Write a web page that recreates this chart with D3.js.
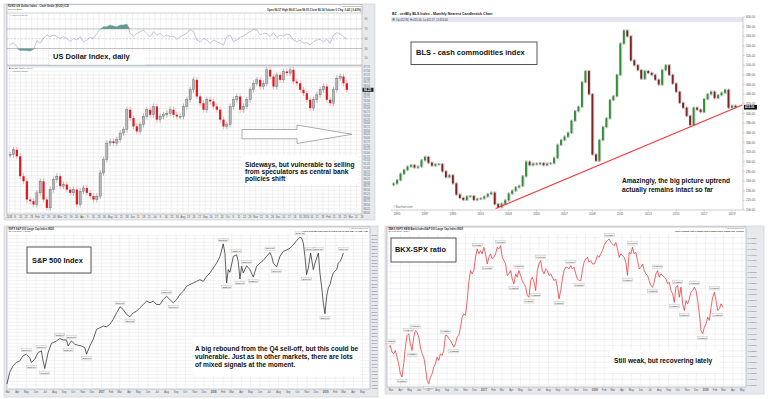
<!DOCTYPE html>
<html>
<head>
<meta charset="utf-8">
<script src="https://d3js.org/d3.v7.min.js"></script>
<style>
  body{margin:0;background:#fff;}
  svg{display:block;font-family:"Liberation Sans",Arial,sans-serif;}
</style>
</head>
<body>
<div id="chart"></div>
<script>
// ---------- US Dollar index, daily (sampled) ----------
var usdFirstDay = '2018-01-02', usdLastDay = '2019-02-27';
var usdClose = [91.89, 92.22, 91.78, 90.44, 90.10, 88.87, 88.76, 88.54, 89.32, 90.10,
  88.87, 88.31, 89.54, 90.21, 90.44, 89.77, 89.88, 89.54, 89.32, 89.54,
  88.54, 89.43, 89.65, 89.32, 89.10, 88.87, 89.10, 90.66, 91.55, 92.67,
  92.78, 92.67, 92.89, 93.34, 93.57, 94.91, 94.35, 93.79, 93.45, 93.90,
  94.46, 94.91, 94.57, 95.13, 94.24, 94.46, 94.57, 94.68, 94.91, 94.57,
  94.46, 94.46, 95.13, 95.58, 96.25, 96.92, 95.80, 95.35, 94.91, 95.58,
  95.47, 95.13, 94.91, 94.24, 93.79, 93.90, 95.13, 95.58, 95.80, 94.91,
  95.13, 95.58, 96.25, 96.69, 96.92, 96.47, 96.69, 97.59, 97.14, 96.47,
  97.25, 96.92, 97.48, 97.37, 97.59, 96.81, 96.69, 96.25, 96.02, 95.58,
  95.02, 95.58, 95.91, 96.25, 96.47, 95.58, 95.35, 96.25, 97.03, 97.14,
  96.69, 96.25];
var usdRsi = [37.1, 41.9, 33.7, 25.6, 26.3, 25.6, 24.9, 28.3, 45.9, 40.5,
  50.7, 57.5, 54.1, 57.5, 54.1, 50.7, 54.1, 50.7, 43.9, 50.7,
  47.3, 54.1, 43.9, 47.3, 52.7, 50.7, 60.8, 69.0, 74.4, 74.4,
  77.8, 75.8, 74.4, 77.8, 77.8, 79.8, 60.8, 55.4, 60.8, 64.2,
  67.6, 60.8, 54.1, 64.2, 57.5, 60.8, 54.1, 57.5, 54.1, 55.4,
  48.6, 54.1, 57.5, 60.8, 69.0, 64.2, 47.3, 43.9, 50.7, 47.3,
  40.5, 47.3, 43.9, 40.5, 37.1, 54.1, 57.5, 43.9, 47.3, 52.7,
  55.4, 60.8, 64.2, 69.0, 67.6, 57.5, 60.8, 60.8, 54.1, 62.2,
  52.7, 57.5, 55.4, 59.5, 57.5, 47.3, 43.9, 47.3, 40.5, 41.9,
  37.1, 43.9, 47.3, 48.6, 43.9, 48.6, 40.5, 57.5, 62.2, 59.5,
  54.1, 48.6];
var usdRsiTicks = [10, 30, 50, 70, 90];

// ---------- BLS cash commodities index, quarterly sample ----------
var blsFirstQuarter = 1994.75;
var blsClose = [255, 262, 275, 283, 290, 293, 288, 290, 303, 310,
  298, 292, 295, 295, 280, 268, 272, 255, 232, 225,
  221, 228, 229, 221, 223, 224, 228, 233, 236, 212,
  206, 213, 220, 234, 240, 247, 250, 270, 300, 293,
  296, 295, 297, 293, 296, 297, 308, 335, 345, 352,
  360, 385, 405, 414, 465, 488, 440, 315, 302, 345,
  372, 390, 428, 436, 480, 545, 572, 560, 510, 500,
  490, 472, 488, 484, 480, 470, 460, 490, 500, 480,
  462, 445, 422, 412, 395, 376, 412, 408, 403, 430,
  440, 445, 432, 438, 443, 449, 412, 416, 413];
var blsYearTicks = [1995, 1997, 1999, 2001, 2003, 2005, 2007, 2009, 2011, 2013, 2015, 2017, 2019];
var blsTrendYears = [2002.07, 2019.73];
var blsTrendValues = [203, 417.6];

// ---------- S&P 500 ----------
var snpYears = [2016.158, 2016.182, 2016.211, 2016.241, 2016.271, 2016.301, 2016.330, 2016.360, 2016.375, 2016.405,
  2016.435, 2016.464, 2016.479, 2016.494, 2016.524, 2016.554, 2016.598, 2016.628, 2016.658, 2016.688,
  2016.702, 2016.717, 2016.732, 2016.762, 2016.792, 2016.821, 2016.851, 2016.866, 2016.896, 2016.926,
  2016.955, 2016.985, 2017.015, 2017.045, 2017.074, 2017.104, 2017.134, 2017.164, 2017.193, 2017.223,
  2017.253, 2017.283, 2017.313, 2017.342, 2017.372, 2017.402, 2017.432, 2017.461, 2017.491, 2017.521,
  2017.551, 2017.580, 2017.610, 2017.640, 2017.670, 2017.699, 2017.729, 2017.759, 2017.789, 2017.818,
  2017.848, 2017.878, 2017.908, 2017.938, 2017.967, 2017.997, 2018.027, 2018.057, 2018.086, 2018.101,
  2018.116, 2018.131, 2018.146, 2018.176, 2018.205, 2018.220, 2018.235, 2018.250, 2018.265, 2018.295,
  2018.324, 2018.354, 2018.384, 2018.414, 2018.443, 2018.473, 2018.503, 2018.518, 2018.533, 2018.562,
  2018.592, 2018.622, 2018.652, 2018.682, 2018.711, 2018.741, 2018.771, 2018.786, 2018.801, 2018.815,
  2018.830, 2018.845, 2018.866, 2018.890, 2018.905, 2018.935, 2018.949, 2018.964, 2018.979, 2018.994,
  2019.009, 2019.024, 2019.039, 2019.054, 2019.068, 2019.098, 2019.113, 2019.128, 2019.143, 2019.158];
var snpClose = [1857, 1940, 1987, 2011, 2023, 2059, 2071, 2047, 2011, 2035,
  2083, 2095, 2023, 1968, 2083, 2149, 2166, 2183, 2173, 2173,
  2130, 2149, 2166, 2142, 2135, 2130, 2118, 2071, 2130, 2178,
  2249, 2261, 2273, 2268, 2285, 2321, 2368, 2411, 2392, 2356,
  2340, 2368, 2380, 2404, 2428, 2452, 2440, 2452, 2428, 2428,
  2463, 2487, 2463, 2440, 2463, 2499, 2523, 2559, 2571, 2582,
  2594, 2606, 2594, 2630, 2654, 2690, 2725, 2773, 2863, 2797,
  2582, 2678, 2659, 2773, 2785, 2737, 2611, 2702, 2654, 2706,
  2678, 2625, 2702, 2725, 2744, 2773, 2801, 2773, 2725, 2697,
  2773, 2809, 2820, 2832, 2856, 2887, 2911, 2904, 2868, 2773,
  2642, 2690, 2797, 2678, 2725, 2797, 2654, 2559, 2440, 2361,
  2487, 2547, 2571, 2618, 2654, 2678, 2725, 2737, 2761, 2797];
var snpMarks = [6, 8, 11, 13, 17, 20, 22, 27, 37, 40, 51, 53, 68, 70, 74, 76, 79, 81, 86, 89, 96, 100, 102, 105, 109, 119];

// ---------- BKX : SPX ratio ----------
var bkxFirst = 2016.142, bkxLast = 2019.154;
var bkxRatio = [0.03283, 0.03298, 0.03239, 0.03225, 0.03254, 0.03195, 0.03136, 0.03048, 0.03019, 0.03136,
  0.03283, 0.03386, 0.03401, 0.03313, 0.03254, 0.03372, 0.03430, 0.03416, 0.03372, 0.03283,
  0.03225, 0.03195, 0.03107, 0.02989, 0.02960, 0.03019, 0.03048, 0.03107, 0.03136, 0.03195,
  0.03166, 0.03225, 0.03210, 0.03254, 0.03386, 0.03386, 0.03357, 0.03342, 0.03313, 0.03283,
  0.03313, 0.03372, 0.03386, 0.03460, 0.03548, 0.03577, 0.03563, 0.03695, 0.03857, 0.03960,
  0.03930, 0.03960, 0.04077, 0.04151, 0.04107, 0.04136, 0.04107, 0.04165, 0.04107, 0.04018,
  0.04077, 0.04107, 0.04062, 0.04077, 0.04107, 0.04165, 0.04151, 0.04180, 0.04077, 0.04048,
  0.04018, 0.03916, 0.03930, 0.03960, 0.03886, 0.03842, 0.03930, 0.03901, 0.03960, 0.03916,
  0.03871, 0.03842, 0.03813, 0.03739, 0.03724, 0.03871, 0.03901, 0.03857, 0.03783, 0.03960,
  0.04018, 0.04048, 0.03960, 0.03930, 0.03974, 0.03960, 0.03916, 0.03930, 0.03901, 0.03871,
  0.03886, 0.03813, 0.03710, 0.03783, 0.03886, 0.03960, 0.03989, 0.03989, 0.03974, 0.04004,
  0.03974, 0.03989, 0.03930, 0.03886, 0.03871, 0.03871, 0.03960, 0.04033, 0.04062, 0.04077,
  0.04033, 0.04048, 0.04018, 0.04018, 0.04048, 0.04092, 0.04077, 0.04107, 0.04136, 0.04180,
  0.04209, 0.04224, 0.04239, 0.04209, 0.04195, 0.04180, 0.04209, 0.04151, 0.04077, 0.04107,
  0.04092, 0.04077, 0.04033, 0.03916, 0.04121, 0.04107, 0.04165, 0.04107, 0.04121, 0.04048,
  0.03974, 0.03989, 0.04018, 0.03960, 0.03930, 0.03916, 0.03871, 0.03827, 0.03813, 0.03857,
  0.03930, 0.03960, 0.03901, 0.03930, 0.03916, 0.03901, 0.03886, 0.03842, 0.03857, 0.03783,
  0.03754, 0.03680, 0.03813, 0.03827, 0.03724, 0.03813, 0.03666, 0.03607, 0.03695, 0.03666,
  0.03710, 0.03768, 0.03783, 0.03813, 0.03783, 0.03695, 0.03577, 0.03430, 0.03401, 0.03460,
  0.03489, 0.03548, 0.03519, 0.03636, 0.03724, 0.03768, 0.03695, 0.03607, 0.03622, 0.03666,
  0.03636];
var bkxMarks = [1, 8, 12, 14, 16, 24, 34, 39, 53, 59, 67, 75, 78, 84, 88, 91, 102, 109, 114, 132, 143, 146, 158, 161, 171, 173, 177, 183, 188, 195, 197];

var svg = d3.select('#chart').append('svg').attr('width', 768).attr('height', 399);
svg.append('rect').attr('width', 768).attr('height', 399).attr('fill', '#fff');

function decYear(y) {
  var yr = Math.floor(y), s = Date.UTC(yr, 0, 1), e = Date.UTC(yr + 1, 0, 1);
  return new Date(s + (y - yr) * (e - s));
}
function frame(x0, y0, x1, y1) {
  svg.append('rect').attr('x', x0).attr('y', y0).attr('width', x1 - x0).attr('height', y1 - y0)
    .attr('fill', '#e7e9ec').attr('stroke', '#c9ccd1').attr('stroke-width', 0.6);
}
function pane(x0, y0, x1, y1) {
  svg.append('rect').attr('x', x0).attr('y', y0).attr('width', x1 - x0).attr('height', y1 - y0)
    .attr('fill', '#fff').attr('stroke', '#9ea3a8').attr('stroke-width', 0.6);
}
function tiny(txt, x, y, size, opts) {
  opts = opts || {};
  return svg.append('text').text(txt).attr('x', x).attr('y', y)
    .attr('font-size', size).attr('fill', opts.fill || '#555')
    .attr('font-weight', opts.bold ? 'bold' : 'normal')
    .attr('text-anchor', opts.anchor || 'start');
}
function note(lines, x, y, size, lh, box, border) {
  if (box) {
    svg.append('rect').attr('x', box[0]).attr('y', box[1]).attr('width', box[2] - box[0]).attr('height', box[3] - box[1])
      .attr('fill', '#fff').attr('stroke', border ? '#444' : 'none').attr('stroke-width', border ? 0.9 : 0);
  }
  lines.forEach(function (l, i) {
    svg.append('text').text(l).attr('x', x).attr('y', y + i * lh)
      .attr('font-size', size).attr('font-weight', 'bold').attr('fill', '#111');
  });
}
function monthFmt(d) {
  return d.getUTCMonth() === 0 ? d3.utcFormat('%Y')(d) : d3.utcFormat('%b')(d);
}

// ================= panel 1 : USD =================
function drawUsd() {
  frame(4, 4, 375, 220);
  var n = usdClose.length;
  var t0 = new Date(usdFirstDay), t1 = new Date(usdLastDay);
  var dates = usdClose.map(function (d, i) { return new Date(+t0 + i * (t1 - t0) / (n - 1)); });
  var x = d3.scaleUtc().domain([d3.utcDay.offset(t0, -4), d3.utcDay.offset(t1, 19)]).range([7, 362]);
  var y = d3.scaleLinear().domain([87.9, 97.85]).range([214, 66]);
  var yr = d3.scaleLinear().domain([0, 100]).range([63.2, 14.2]);

  pane(7, 4.5, 362, 65);
  pane(7, 66, 362, 214);
  var weeks = x.ticks(d3.utcMonday.every(1));
  var grid = svg.append('g').attr('stroke', '#e3e3e3').attr('stroke-width', 0.5);
  weeks.forEach(function (w) {
    grid.append('line').attr('x1', x(w)).attr('x2', x(w)).attr('y1', 13).attr('y2', 65);
    grid.append('line').attr('x1', x(w)).attr('x2', x(w)).attr('y1', 73).attr('y2', 214);
  });
  var pticks = d3.range(88, 97.8, 0.25);
  pticks.forEach(function (p) {
    grid.append('line').attr('x1', 7).attr('x2', 362).attr('y1', y(p)).attr('y2', y(p));
    tiny(p.toFixed(2), 363.5, y(p) + 1, 2.6, { fill: '#666' });
  });
  svg.append('line').attr('x1', 7).attr('x2', 362).attr('y1', 13).attr('y2', 13).attr('stroke', '#9ea3a8').attr('stroke-width', 0.5);

  // rsi guide lines
  usdRsiTicks.forEach(function (v) {
    var s = v === 50 ? '#aaa' : (v === 70 || v === 30 ? '#888' : '#e3e3e3');
    svg.append('line').attr('x1', 7).attr('x2', 362).attr('y1', yr(v)).attr('y2', yr(v))
      .attr('stroke', s).attr('stroke-width', 0.5).attr('stroke-dasharray', v === 50 ? '2,1.5' : null);
    tiny(String(v), 364.5, yr(v) + 1, 2.6, { fill: '#666' });
  });
  var hi = d3.area().x(function (d, i) { return x(dates[i]); })
    .y0(yr(70)).y1(function (d) { return yr(Math.max(d, 70)); });
  var lo = d3.area().x(function (d, i) { return x(dates[i]); })
    .y0(yr(30)).y1(function (d) { return yr(Math.min(d, 30)); });
  svg.append('path').datum(usdRsi).attr('d', hi).attr('fill', '#5f9d8c');
  svg.append('path').datum(usdRsi).attr('d', lo).attr('fill', '#5f9d8c');
  svg.append('path').datum(usdRsi)
    .attr('d', d3.line().x(function (d, i) { return x(dates[i]); }).y(function (d) { return yr(d); }))
    .attr('fill', 'none').attr('stroke', '#9a9ad0').attr('stroke-width', 0.6);

  // candles
  var wick = 0.2;
  var candles = usdClose.map(function (c, i) { return { date: dates[i], o: i ? usdClose[i - 1] : c, c: c }; });
  var g = svg.append('g');
  g.selectAll('line').data(candles).enter().append('line')
    .attr('x1', function (d) { return x(d.date); }).attr('x2', function (d) { return x(d.date); })
    .attr('y1', function (d) { return y(Math.max(d.o, d.c) + wick); })
    .attr('y2', function (d) { return y(Math.min(d.o, d.c) - wick); })
    .attr('stroke', function (d) { return d.c < d.o ? '#f29a9a' : '#9a9a9a'; }).attr('stroke-width', 0.7);
  g.selectAll('rect').data(candles).enter().append('rect')
    .attr('x', function (d) { return x(d.date) - 1.1; }).attr('width', 2.2)
    .attr('y', function (d) { return y(Math.max(d.o, d.c)); })
    .attr('height', function (d) { return Math.max(0.7, Math.abs(y(d.o) - y(d.c))); })
    .attr('fill', function (d) { return d.c < d.o ? '#e8141c' : '#b5b5b5'; })
    .attr('stroke', function (d) { return d.c < d.o ? 'none' : '#555'; }).attr('stroke-width', 0.35);

  var last = usdClose[n - 1];
  svg.append('rect').attr('x', 362.5).attr('y', y(last) - 2).attr('width', 11).attr('height', 4).attr('fill', '#222');
  tiny(last.toFixed(2), 364, y(last) + 1, 2.8, { fill: '#fff', bold: true });

  weeks.forEach(function (w) {
    var lbl = w.getUTCDate() <= 7 ? monthFmt(w) : String(w.getUTCDate());
    tiny(lbl, x(w), 218, 2.6, { fill: '#555', anchor: 'middle' });
  });

  tiny('$USD US Dollar Index - Cash Settle (EOD) ICE', 8, 7.4, 2.8, { fill: '#333', bold: true });
  tiny('27-Feb-2019', 8, 10.4, 2.5, { fill: '#444' });
  tiny('\u00a9 StockCharts.com', 361, 7, 2.5, { fill: '#666', anchor: 'end' });
  tiny('Open 96.57  High 96.61  Low 96.05  Close 96.14  Volume 0  Chg -0.42 (-0.43%)', 361, 10.6, 2.7, { fill: '#333', bold: true, anchor: 'end' });
  tiny('\u2014 RSI(14) 56.37', 9, 15.8, 2.5, { fill: '#666' });
  tiny('\u25a0 $USD (Daily) 96.14', 9, 69, 2.5, { fill: '#555' });
  tiny('\u2014 Volume undef', 9, 71.8, 2.5, { fill: '#3a5fcd' });

  // arrow + notes
  svg.append('polygon')
    .attr('points', '242,129.5 297,129.5 297,125 352,134.3 297,143.5 297,138.8 242,138.8')
    .attr('fill', '#fff').attr('stroke', '#8a8a8a').attr('stroke-width', 0.7);
  note(['US Dollar Index, daily'], 53, 59.2, 7.5, 0, [49, 52, 145, 64.5], false);
  note(['Sideways, but vulnerable to selling', 'from speculators as central bank', 'policies shift'],
    245, 167, 6.6, 7.2, [242, 156, 358, 184.5], false);
}

// ================= panel 2 : BLS =================
function drawBls() {
  var x = d3.scaleLinear().domain([1994.57, 2019.79]).range([391, 743]);
  var y = d3.scaleLinear().domain([200, 600]).range([210, 17]);
  var wick = 2.5;

  tiny('BZ - crnBly BLS Index - Monthly Nearest Candlestick Chart', 392, 15.3, 3.6, { fill: '#222', bold: true });
  svg.append('rect').attr('x', 391).attr('y', 17).attr('width', 352).attr('height', 5).attr('fill', '#e4e4f6');
  svg.append('rect').attr('x', 392.5).attr('y', 18.3).attr('width', 2.2).attr('height', 2.2).attr('fill', '#2fa82f');
  tiny('Op:412.94, Hi:415.00, Lo:411.57, Cl:413.06', 396, 20.6, 2.7, { fill: '#333' });

  // axes
  svg.append('line').attr('x1', 743).attr('x2', 743).attr('y1', 17).attr('y2', 210).attr('stroke', '#999').attr('stroke-width', 0.5);
  svg.append('line').attr('x1', 391).attr('x2', 743).attr('y1', 210).attr('y2', 210).attr('stroke', '#999').attr('stroke-width', 0.5);
  d3.range(200, 601, 20).forEach(function (v) {
    svg.append('line').attr('x1', 743).attr('x2', 745).attr('y1', y(v)).attr('y2', y(v)).attr('stroke', '#999').attr('stroke-width', 0.4);
    tiny(v.toFixed(2), 746, y(v) + 1.1, 3, { fill: '#555' });
  });
  blsYearTicks.forEach(function (t) {
    svg.append('line').attr('x1', x(t)).attr('x2', x(t)).attr('y1', 210).attr('y2', 212).attr('stroke', '#999').attr('stroke-width', 0.4);
    tiny(String(t), x(t), 215.2, 3, { fill: '#555', anchor: 'middle' });
  });
  tiny('\u00a9 Barchart.com', 393, 207.5, 2.8, { fill: '#666' });

  var candles = blsClose.map(function (c, i) {
    return { t: blsFirstQuarter + i * 0.25, o: i ? blsClose[i - 1] : c - 3, c: c };
  });
  var g = svg.append('g');
  g.selectAll('rect.sh').data(candles).enter().append('rect')
    .attr('x', function (d) { return x(d.t) - 1.1; }).attr('width', 3.2)
    .attr('y', function (d) { return y(Math.max(d.o, d.c) + wick); })
    .attr('height', function (d) { return Math.abs(y(d.o) - y(d.c)) + 2 * (y(0) - y(wick)); })
    .attr('fill', '#dcdcdc');
  g.selectAll('line').data(candles).enter().append('line')
    .attr('x1', function (d) { return x(d.t); }).attr('x2', function (d) { return x(d.t); })
    .attr('y1', function (d) { return y(Math.max(d.o, d.c) + wick); })
    .attr('y2', function (d) { return y(Math.min(d.o, d.c) - wick); })
    .attr('stroke', '#444').attr('stroke-width', 0.4);
  g.selectAll('rect.bd').data(candles).enter().append('rect')
    .attr('x', function (d) { return x(d.t) - 0.95; }).attr('width', 1.9)
    .attr('y', function (d) { return y(Math.max(d.o, d.c)); })
    .attr('height', function (d) { return Math.max(0.7, Math.abs(y(d.o) - y(d.c))); })
    .attr('fill', function (d) { return d.c < d.o ? '#7e2222' : '#2f8f36'; });

  svg.append('line')
    .attr('x1', x(blsTrendYears[0])).attr('y1', y(blsTrendValues[0]))
    .attr('x2', x(blsTrendYears[1])).attr('y2', y(blsTrendValues[1]))
    .attr('stroke', '#f23c3c').attr('stroke-width', 1.2);

  var last = blsClose[blsClose.length - 1];
  svg.append('rect').attr('x', 744).attr('y', y(last) - 2.3).attr('width', 13).attr('height', 4.6).attr('fill', '#111');
  tiny('413.06', 745, y(last) + 1.1, 3, { fill: '#fff', bold: true });

  note(['BLS - cash commodities index'], 416, 55.3, 7.5, 0, [411, 42, 537, 64.5], true);
  note(['Amazingly, the big picture uptrend', 'actually remains intact so far'], 622, 183.3, 6.6, 8.3, null, false);
}

// ================= line panels =================
function markBoxes(x, y, dates, vals, marks, fmt) {
  marks.forEach(function (i) {
    var v = vals[i], p = i > 0 ? vals[i - 1] : v, q = i < vals.length - 1 ? vals[i + 1] : -Infinity;
    var up = v >= p && v >= q;
    var cx = x(dates[i]), cy = y(v) + (up ? -3.9 : 4.2);
    svg.append('rect').attr('x', cx - 5).attr('y', cy - 1.6).attr('width', 10).attr('height', 3.2)
      .attr('fill', '#f3f3f3').attr('stroke', '#aaa').attr('stroke-width', 0.3);
    tiny(fmt(v), cx, cy + 0.85, 2.3, { fill: '#333', anchor: 'middle' });
  });
}
function linePanel(o) {
  frame(o.fx0, 226, o.fx1, o.fy1);
  pane(o.x0, 227, o.x1, o.y1);
  var x = d3.scaleUtc().domain([decYear(o.d0), decYear(o.d1)]).range([o.x0, o.x1]);
  var y = d3.scaleLinear().domain(o.yDomain).range([o.y1, 227.3]);
  var grid = svg.append('g').attr('stroke', '#e5e5e5').attr('stroke-width', 0.5);
  var months = x.ticks(d3.utcMonth.every(1));
  months.forEach(function (m) {
    grid.append('line').attr('x1', x(m)).attr('x2', x(m)).attr('y1', 234).attr('y2', o.y1);
    tiny(monthFmt(m), x(m), o.y1 + 3.6, 2.6, { fill: '#555', anchor: 'middle', bold: m.getUTCMonth() === 0 });
  });
  d3.range(o.gridStart, o.yDomain[1], o.gridStep).forEach(function (v) {
    if (y(v) < 234) return;
    grid.append('line').attr('x1', o.x0).attr('x2', o.x1).attr('y1', y(v)).attr('y2', y(v));
    tiny(o.fmt(v), o.x1 + 1.5, y(v) + 0.9, 2.5, { fill: '#666' });
  });
  tiny(o.head1, o.x0 + 1.5, 229.6, 2.6, { fill: '#333', bold: true });
  tiny(o.head2, o.x0 + 1.5, 232.3, 2.4, { fill: '#444' });
  tiny('\u00a9 StockCharts.com', o.x1 - 2, 229.3, 2.2, { fill: '#777', anchor: 'end' });
  tiny(o.head3, o.x1 - 2, 231.7, 2.2, { fill: '#333', bold: true, anchor: 'end' });
  svg.append('path').datum(o.vals)
    .attr('d', d3.line().x(function (d, i) { return x(o.dates[i]); }).y(function (d) { return y(d); }))
    .attr('fill', 'none').attr('stroke', o.color).attr('stroke-width', 0.75);
  markBoxes(x, y, o.dates, o.vals, o.marks, o.markFmt);
}

function drawSnp() {
  linePanel({
    fx0: 4, fx1: 378, fy1: 397, x0: 7, x1: 370, y1: 389,
    d0: 2016.158, d1: 2019.396, yDomain: [1821, 2982], gridStart: 1825, gridStep: 25,
    fmt: function (v) { return String(v); }, markFmt: function (v) { return v.toFixed(2); },
    dates: snpYears.map(decYear), vals: snpClose, marks: snpMarks, color: '#2b2b2b',
    head1: '$SPX S&P 500 Large Cap Index INDX',
    head2: '28-Feb-2019 4:30pm',
    head3: 'Open 2792.38 High 2795.72 Low 2775.13 Last 2784.49 Chg -7.89'
  });
  note(['S&P 500 Index'], 32, 263.3, 7.4, 0, [27, 247, 91, 273], true);
  note(['A big rebound from the Q4 sell-off, but this could be', 'vulnerable. Just as in other markets, there are lots', 'of mixed signals at the moment.'],
    195, 350.6, 6.6, 8.2, [193, 337, 360, 375], false);
}

function drawBkx() {
  var t0 = decYear(bkxFirst), t1 = decYear(bkxLast), n = bkxRatio.length;
  var dates = bkxRatio.map(function (d, i) { return new Date(+t0 + i * (t1 - t0) / (n - 1)); });
  linePanel({
    fx0: 385, fx1: 764, fy1: 394, x0: 387, x1: 746, y1: 387,
    d0: 2016.127, d1: 2019.364, yDomain: [0.02931, 0.04342], gridStart: 0.0295, gridStep: 0.0005,
    fmt: function (v) { return v.toFixed(5); }, markFmt: function (v) { return v.toFixed(5); },
    dates: dates, vals: bkxRatio, marks: bkxMarks, color: '#e8333a',
    head1: '$BKX:$SPX KBW Bank Index/S&P 500 Large Cap Index INDX',
    head2: '28-Feb-2019 (Daily)',
    head3: 'Open 0.03636 High 0.03651 Low 0.03622 Last 0.03636 Chg -0.00011'
  });
  note(['BKX-SPX ratio'], 395, 252.3, 7.4, 0, [391, 238, 456, 262], true);
  note(['Still weak, but recovering lately'], 614, 363.3, 6.6, 0, [610, 350, 719, 373], false);
}

drawUsd();
drawBls();
drawSnp();
drawBkx();
</script>
</body>
</html>
